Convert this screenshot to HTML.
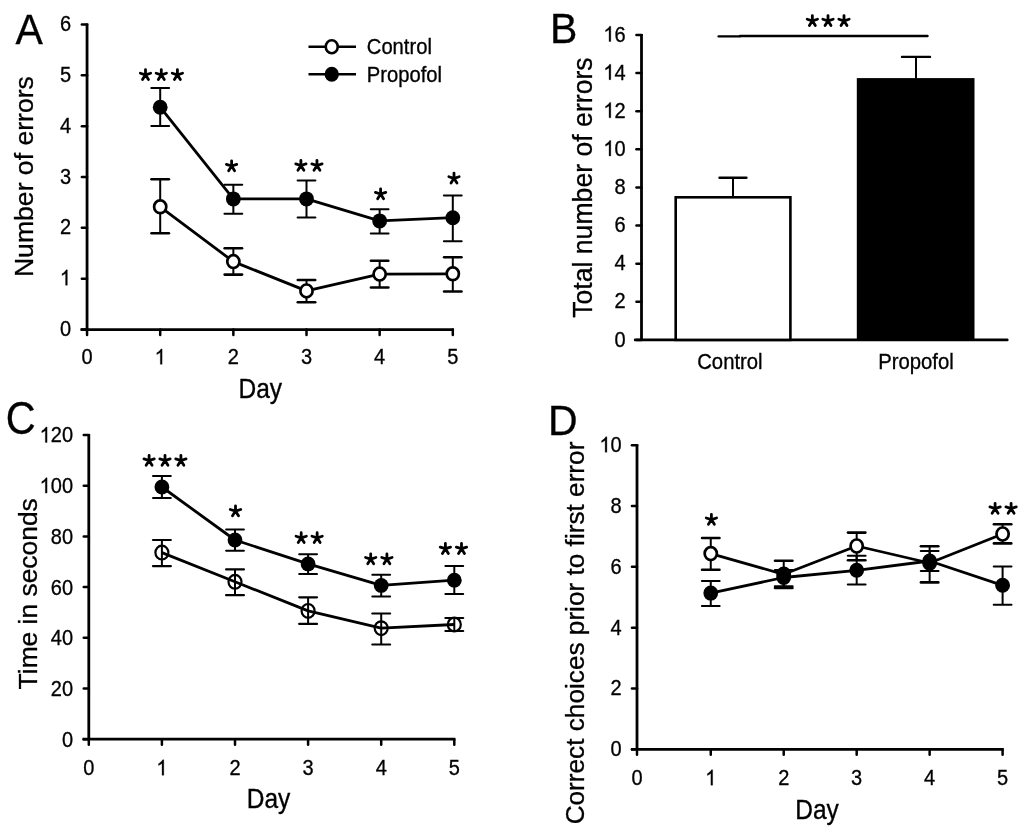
<!DOCTYPE html>
<html><head><meta charset="utf-8"><style>
html,body{margin:0;padding:0;background:#fff;width:1024px;height:832px;overflow:hidden}
svg{display:block}
#w{filter:grayscale(1)}
text{font-family:"Liberation Sans", sans-serif;fill:#000;stroke:#000;stroke-width:0.3px}
</style></head><body>
<div id="w"><svg width="1024" height="832" viewBox="0 0 1024 832">
<rect width="1024" height="832" fill="#fff"/>
<line x1="87.05" y1="23.50" x2="87.05" y2="329.55" stroke="#000" stroke-width="2.8" stroke-linecap="butt"/>
<line x1="81.85" y1="329.55" x2="87.05" y2="329.55" stroke="#000" stroke-width="2.5" stroke-linecap="round"/>
<text x="0" y="0" font-size="20" transform="translate(59.88 336.05) scale(1 1.07)">0</text>
<line x1="81.85" y1="278.71" x2="87.05" y2="278.71" stroke="#000" stroke-width="2.5" stroke-linecap="round"/>
<path d="M763 0H583V1147Q518 1085 412.5 1023T223 930V1104Q373 1175 485.5 1276T645 1472H763V0Z" transform="translate(59.88 285.21) scale(0.00977 -0.01045)" fill="#000" stroke="#000" stroke-width="30.7"/>
<line x1="81.85" y1="227.87" x2="87.05" y2="227.87" stroke="#000" stroke-width="2.5" stroke-linecap="round"/>
<text x="0" y="0" font-size="20" transform="translate(59.88 234.37) scale(1 1.07)">2</text>
<line x1="81.85" y1="177.03" x2="87.05" y2="177.03" stroke="#000" stroke-width="2.5" stroke-linecap="round"/>
<text x="0" y="0" font-size="20" transform="translate(59.88 183.53) scale(1 1.07)">3</text>
<line x1="81.85" y1="126.19" x2="87.05" y2="126.19" stroke="#000" stroke-width="2.5" stroke-linecap="round"/>
<text x="0" y="0" font-size="20" transform="translate(59.88 132.69) scale(1 1.07)">4</text>
<line x1="81.85" y1="75.35" x2="87.05" y2="75.35" stroke="#000" stroke-width="2.5" stroke-linecap="round"/>
<text x="0" y="0" font-size="20" transform="translate(59.88 81.85) scale(1 1.07)">5</text>
<line x1="81.85" y1="24.51" x2="87.05" y2="24.51" stroke="#000" stroke-width="2.5" stroke-linecap="round"/>
<text x="0" y="0" font-size="20" transform="translate(59.88 31.01) scale(1 1.07)">6</text>
<line x1="80.55" y1="329.55" x2="453.80" y2="329.55" stroke="#000" stroke-width="2.8" stroke-linecap="butt"/>
<line x1="87.05" y1="329.55" x2="87.05" y2="335.00" stroke="#000" stroke-width="2.5" stroke-linecap="round"/>
<text x="0" y="0" font-size="20" transform="translate(81.49 364.30) scale(1 1.07)">0</text>
<line x1="160.20" y1="329.55" x2="160.20" y2="335.00" stroke="#000" stroke-width="2.5" stroke-linecap="round"/>
<path d="M763 0H583V1147Q518 1085 412.5 1023T223 930V1104Q373 1175 485.5 1276T645 1472H763V0Z" transform="translate(154.64 364.30) scale(0.00977 -0.01045)" fill="#000" stroke="#000" stroke-width="30.7"/>
<line x1="233.35" y1="329.55" x2="233.35" y2="335.00" stroke="#000" stroke-width="2.5" stroke-linecap="round"/>
<text x="0" y="0" font-size="20" transform="translate(227.79 364.30) scale(1 1.07)">2</text>
<line x1="306.50" y1="329.55" x2="306.50" y2="335.00" stroke="#000" stroke-width="2.5" stroke-linecap="round"/>
<text x="0" y="0" font-size="20" transform="translate(300.94 364.30) scale(1 1.07)">3</text>
<line x1="379.65" y1="329.55" x2="379.65" y2="335.00" stroke="#000" stroke-width="2.5" stroke-linecap="round"/>
<text x="0" y="0" font-size="20" transform="translate(374.09 364.30) scale(1 1.07)">4</text>
<line x1="452.80" y1="329.55" x2="452.80" y2="335.00" stroke="#000" stroke-width="2.5" stroke-linecap="round"/>
<text x="0" y="0" font-size="20" transform="translate(447.24 364.30) scale(1 1.07)">5</text>
<text x="0" y="0" font-size="24.5" text-anchor="middle" transform="translate(260.30 398.40) scale(1 1.13)">Day</text>
<text x="0" y="0" font-size="26.6" text-anchor="middle" transform="translate(33.00 176.60) rotate(-90)">Number of errors</text>
<text x="0" y="0" font-size="41" text-anchor="start" transform="translate(15.60 44.00) scale(1 1.05)">A</text>
<line x1="308.50" y1="46.75" x2="356.00" y2="46.75" stroke="#000" stroke-width="2.6" stroke-linecap="butt"/>
<ellipse cx="331.75" cy="46.75" rx="6.0" ry="6.5" fill="#fff" stroke="#000" stroke-width="2.6"/>
<line x1="308.50" y1="74.25" x2="356.00" y2="74.25" stroke="#000" stroke-width="2.6" stroke-linecap="butt"/>
<ellipse cx="331.75" cy="74.25" rx="7.2" ry="7.5" fill="#000" stroke="#000" stroke-width="0"/>
<text x="0" y="0" font-size="20.2" text-anchor="start" transform="translate(366.80 54.30) scale(1 1.07)">Control</text>
<text x="0" y="0" font-size="20.2" text-anchor="start" transform="translate(366.80 81.80) scale(1 1.07)">Propofol</text>
<line x1="160.20" y1="179.30" x2="160.20" y2="233.20" stroke="#000" stroke-width="2.0" stroke-linecap="butt"/>
<line x1="151.50" y1="179.30" x2="168.90" y2="179.30" stroke="#000" stroke-width="2.6" stroke-linecap="round"/>
<line x1="151.50" y1="233.20" x2="168.90" y2="233.20" stroke="#000" stroke-width="2.6" stroke-linecap="round"/>
<line x1="233.35" y1="248.20" x2="233.35" y2="274.60" stroke="#000" stroke-width="2.0" stroke-linecap="butt"/>
<line x1="224.65" y1="248.20" x2="242.05" y2="248.20" stroke="#000" stroke-width="2.6" stroke-linecap="round"/>
<line x1="224.65" y1="274.60" x2="242.05" y2="274.60" stroke="#000" stroke-width="2.6" stroke-linecap="round"/>
<line x1="306.50" y1="280.00" x2="306.50" y2="302.30" stroke="#000" stroke-width="2.0" stroke-linecap="butt"/>
<line x1="297.80" y1="280.00" x2="315.20" y2="280.00" stroke="#000" stroke-width="2.6" stroke-linecap="round"/>
<line x1="297.80" y1="302.30" x2="315.20" y2="302.30" stroke="#000" stroke-width="2.6" stroke-linecap="round"/>
<line x1="379.65" y1="260.70" x2="379.65" y2="287.50" stroke="#000" stroke-width="2.0" stroke-linecap="butt"/>
<line x1="370.95" y1="260.70" x2="388.35" y2="260.70" stroke="#000" stroke-width="2.6" stroke-linecap="round"/>
<line x1="370.95" y1="287.50" x2="388.35" y2="287.50" stroke="#000" stroke-width="2.6" stroke-linecap="round"/>
<line x1="452.80" y1="257.30" x2="452.80" y2="291.50" stroke="#000" stroke-width="2.0" stroke-linecap="butt"/>
<line x1="444.10" y1="257.30" x2="461.50" y2="257.30" stroke="#000" stroke-width="2.6" stroke-linecap="round"/>
<line x1="444.10" y1="291.50" x2="461.50" y2="291.50" stroke="#000" stroke-width="2.6" stroke-linecap="round"/>
<line x1="160.20" y1="88.10" x2="160.20" y2="126.00" stroke="#000" stroke-width="2.0" stroke-linecap="butt"/>
<line x1="151.30" y1="88.10" x2="169.10" y2="88.10" stroke="#000" stroke-width="2.0" stroke-linecap="round"/>
<line x1="151.30" y1="126.00" x2="169.10" y2="126.00" stroke="#000" stroke-width="2.0" stroke-linecap="round"/>
<line x1="233.35" y1="184.80" x2="233.35" y2="213.80" stroke="#000" stroke-width="2.0" stroke-linecap="butt"/>
<line x1="224.45" y1="184.80" x2="242.25" y2="184.80" stroke="#000" stroke-width="2.0" stroke-linecap="round"/>
<line x1="224.45" y1="213.80" x2="242.25" y2="213.80" stroke="#000" stroke-width="2.0" stroke-linecap="round"/>
<line x1="306.50" y1="180.50" x2="306.50" y2="217.50" stroke="#000" stroke-width="2.0" stroke-linecap="butt"/>
<line x1="297.60" y1="180.50" x2="315.40" y2="180.50" stroke="#000" stroke-width="2.0" stroke-linecap="round"/>
<line x1="297.60" y1="217.50" x2="315.40" y2="217.50" stroke="#000" stroke-width="2.0" stroke-linecap="round"/>
<line x1="379.65" y1="209.30" x2="379.65" y2="233.50" stroke="#000" stroke-width="2.0" stroke-linecap="butt"/>
<line x1="370.75" y1="209.30" x2="388.55" y2="209.30" stroke="#000" stroke-width="2.0" stroke-linecap="round"/>
<line x1="370.75" y1="233.50" x2="388.55" y2="233.50" stroke="#000" stroke-width="2.0" stroke-linecap="round"/>
<line x1="452.80" y1="195.40" x2="452.80" y2="241.20" stroke="#000" stroke-width="2.0" stroke-linecap="butt"/>
<line x1="443.90" y1="195.40" x2="461.70" y2="195.40" stroke="#000" stroke-width="2.0" stroke-linecap="round"/>
<line x1="443.90" y1="241.20" x2="461.70" y2="241.20" stroke="#000" stroke-width="2.0" stroke-linecap="round"/>
<polyline points="160.20,206.80 233.35,261.60 306.50,290.90 379.65,274.10 452.80,273.80" fill="none" stroke="#000" stroke-width="2.8" stroke-linejoin="round"/>
<polyline points="160.20,107.20 233.35,198.90 306.50,198.90 379.65,220.90 452.80,217.70" fill="none" stroke="#000" stroke-width="2.8" stroke-linejoin="round"/>
<ellipse cx="160.20" cy="206.80" rx="6.1" ry="6.4" fill="#fff" stroke="#000" stroke-width="2.7"/>
<ellipse cx="233.35" cy="261.60" rx="6.1" ry="6.4" fill="#fff" stroke="#000" stroke-width="2.7"/>
<ellipse cx="306.50" cy="290.90" rx="6.1" ry="6.4" fill="#fff" stroke="#000" stroke-width="2.7"/>
<ellipse cx="379.65" cy="274.10" rx="6.1" ry="6.4" fill="#fff" stroke="#000" stroke-width="2.7"/>
<ellipse cx="452.80" cy="273.80" rx="6.1" ry="6.4" fill="#fff" stroke="#000" stroke-width="2.7"/>
<ellipse cx="160.20" cy="107.20" rx="7.4" ry="7.5" fill="#000" stroke="#000" stroke-width="0"/>
<ellipse cx="233.35" cy="198.90" rx="7.4" ry="7.5" fill="#000" stroke="#000" stroke-width="0"/>
<ellipse cx="306.50" cy="198.90" rx="7.4" ry="7.5" fill="#000" stroke="#000" stroke-width="0"/>
<ellipse cx="379.65" cy="220.90" rx="7.4" ry="7.5" fill="#000" stroke="#000" stroke-width="0"/>
<ellipse cx="452.80" cy="217.70" rx="7.4" ry="7.5" fill="#000" stroke="#000" stroke-width="0"/>
<path d="M145.50,74.80L145.50,69.60M145.50,74.80L150.66,73.22M145.50,74.80L148.47,79.55M145.50,74.80L142.53,79.55M145.50,74.80L140.34,73.22" stroke="#000" stroke-width="2.8" stroke-linecap="round" fill="none"/>
<path d="M161.30,74.80L161.30,69.60M161.30,74.80L166.46,73.22M161.30,74.80L164.27,79.55M161.30,74.80L158.33,79.55M161.30,74.80L156.14,73.22" stroke="#000" stroke-width="2.8" stroke-linecap="round" fill="none"/>
<path d="M177.40,74.80L177.40,69.60M177.40,74.80L182.56,73.22M177.40,74.80L180.37,79.55M177.40,74.80L174.43,79.55M177.40,74.80L172.24,73.22" stroke="#000" stroke-width="2.8" stroke-linecap="round" fill="none"/>
<path d="M231.60,166.00L231.60,160.80M231.60,166.00L236.76,164.42M231.60,166.00L234.57,170.75M231.60,166.00L228.63,170.75M231.60,166.00L226.44,164.42" stroke="#000" stroke-width="2.8" stroke-linecap="round" fill="none"/>
<path d="M300.90,165.50L300.90,160.30M300.90,165.50L306.06,163.92M300.90,165.50L303.87,170.25M300.90,165.50L297.93,170.25M300.90,165.50L295.74,163.92" stroke="#000" stroke-width="2.8" stroke-linecap="round" fill="none"/>
<path d="M316.95,165.50L316.95,160.30M316.95,165.50L322.11,163.92M316.95,165.50L319.92,170.25M316.95,165.50L313.98,170.25M316.95,165.50L311.79,163.92" stroke="#000" stroke-width="2.8" stroke-linecap="round" fill="none"/>
<path d="M380.60,194.00L380.60,188.80M380.60,194.00L385.76,192.42M380.60,194.00L383.57,198.75M380.60,194.00L377.63,198.75M380.60,194.00L375.44,192.42" stroke="#000" stroke-width="2.8" stroke-linecap="round" fill="none"/>
<path d="M454.00,178.30L454.00,173.10M454.00,178.30L459.16,176.72M454.00,178.30L456.97,183.05M454.00,178.30L451.03,183.05M454.00,178.30L448.84,176.72" stroke="#000" stroke-width="2.8" stroke-linecap="round" fill="none"/>
<line x1="641.50" y1="34.00" x2="641.50" y2="339.90" stroke="#000" stroke-width="2.8" stroke-linecap="butt"/>
<line x1="636.45" y1="339.90" x2="641.50" y2="339.90" stroke="#000" stroke-width="2.5" stroke-linecap="round"/>
<text x="0" y="0" font-size="20" transform="translate(614.48 346.50) scale(1 1.07)">0</text>
<line x1="636.45" y1="301.78" x2="641.50" y2="301.78" stroke="#000" stroke-width="2.5" stroke-linecap="round"/>
<text x="0" y="0" font-size="20" transform="translate(614.48 308.38) scale(1 1.07)">2</text>
<line x1="636.45" y1="263.66" x2="641.50" y2="263.66" stroke="#000" stroke-width="2.5" stroke-linecap="round"/>
<text x="0" y="0" font-size="20" transform="translate(614.48 270.26) scale(1 1.07)">4</text>
<line x1="636.45" y1="225.54" x2="641.50" y2="225.54" stroke="#000" stroke-width="2.5" stroke-linecap="round"/>
<text x="0" y="0" font-size="20" transform="translate(614.48 232.14) scale(1 1.07)">6</text>
<line x1="636.45" y1="187.42" x2="641.50" y2="187.42" stroke="#000" stroke-width="2.5" stroke-linecap="round"/>
<text x="0" y="0" font-size="20" transform="translate(614.48 194.02) scale(1 1.07)">8</text>
<line x1="636.45" y1="149.30" x2="641.50" y2="149.30" stroke="#000" stroke-width="2.5" stroke-linecap="round"/>
<path d="M763 0H583V1147Q518 1085 412.5 1023T223 930V1104Q373 1175 485.5 1276T645 1472H763V0Z" transform="translate(603.35 155.90) scale(0.00977 -0.01045)" fill="#000" stroke="#000" stroke-width="30.7"/>
<text x="0" y="0" font-size="20" transform="translate(614.48 155.90) scale(1 1.07)">0</text>
<line x1="636.45" y1="111.18" x2="641.50" y2="111.18" stroke="#000" stroke-width="2.5" stroke-linecap="round"/>
<path d="M763 0H583V1147Q518 1085 412.5 1023T223 930V1104Q373 1175 485.5 1276T645 1472H763V0Z" transform="translate(603.35 117.78) scale(0.00977 -0.01045)" fill="#000" stroke="#000" stroke-width="30.7"/>
<text x="0" y="0" font-size="20" transform="translate(614.48 117.78) scale(1 1.07)">2</text>
<line x1="636.45" y1="73.06" x2="641.50" y2="73.06" stroke="#000" stroke-width="2.5" stroke-linecap="round"/>
<path d="M763 0H583V1147Q518 1085 412.5 1023T223 930V1104Q373 1175 485.5 1276T645 1472H763V0Z" transform="translate(603.35 79.66) scale(0.00977 -0.01045)" fill="#000" stroke="#000" stroke-width="30.7"/>
<text x="0" y="0" font-size="20" transform="translate(614.48 79.66) scale(1 1.07)">4</text>
<line x1="636.45" y1="34.94" x2="641.50" y2="34.94" stroke="#000" stroke-width="2.5" stroke-linecap="round"/>
<path d="M763 0H583V1147Q518 1085 412.5 1023T223 930V1104Q373 1175 485.5 1276T645 1472H763V0Z" transform="translate(603.35 41.54) scale(0.00977 -0.01045)" fill="#000" stroke="#000" stroke-width="30.7"/>
<text x="0" y="0" font-size="20" transform="translate(614.48 41.54) scale(1 1.07)">6</text>
<line x1="635.20" y1="339.90" x2="1007.20" y2="339.90" stroke="#000" stroke-width="2.8" stroke-linecap="round"/>
<rect x="675.7" y="197.3" width="114.70" height="142.60" fill="#fff" stroke="#000" stroke-width="2.6"/>
<rect x="856.8" y="78.1" width="117.70" height="261.80" fill="#000"/>
<line x1="733.00" y1="177.70" x2="733.00" y2="197.30" stroke="#000" stroke-width="2.0" stroke-linecap="butt"/>
<line x1="719.50" y1="177.70" x2="746.40" y2="177.70" stroke="#000" stroke-width="2.4" stroke-linecap="round"/>
<line x1="916.00" y1="56.90" x2="916.00" y2="78.50" stroke="#000" stroke-width="2.0" stroke-linecap="butt"/>
<line x1="902.00" y1="56.90" x2="930.00" y2="56.90" stroke="#000" stroke-width="2.4" stroke-linecap="round"/>
<line x1="718.50" y1="36.40" x2="740.00" y2="36.40" stroke="#000" stroke-width="2.3" stroke-linecap="round"/>
<line x1="740.00" y1="36.00" x2="927.60" y2="36.00" stroke="#000" stroke-width="2.3" stroke-linecap="round"/>
<path d="M812.35,20.80L812.35,15.60M812.35,20.80L817.51,19.22M812.35,20.80L815.32,25.55M812.35,20.80L809.38,25.55M812.35,20.80L807.19,19.22" stroke="#000" stroke-width="2.8" stroke-linecap="round" fill="none"/>
<path d="M828.00,20.80L828.00,15.60M828.00,20.80L833.16,19.22M828.00,20.80L830.97,25.55M828.00,20.80L825.03,25.55M828.00,20.80L822.84,19.22" stroke="#000" stroke-width="2.8" stroke-linecap="round" fill="none"/>
<path d="M844.00,20.80L844.00,15.60M844.00,20.80L849.16,19.22M844.00,20.80L846.97,25.55M844.00,20.80L841.03,25.55M844.00,20.80L838.84,19.22" stroke="#000" stroke-width="2.8" stroke-linecap="round" fill="none"/>
<text x="0" y="0" font-size="20.3" text-anchor="middle" transform="translate(729.90 369.00) scale(1 1.08)">Control</text>
<text x="0" y="0" font-size="20.3" text-anchor="middle" transform="translate(916.00 369.30) scale(1 1.08)">Propofol</text>
<text x="0" y="0" font-size="27" text-anchor="middle" transform="translate(592.30 187.60) rotate(-90)" textLength="260.5" lengthAdjust="spacingAndGlyphs">Total number of errors</text>
<text x="0" y="0" font-size="41" text-anchor="start" transform="translate(550.00 42.50) scale(1 1.02)">B</text>
<line x1="88.80" y1="434.00" x2="88.80" y2="739.20" stroke="#000" stroke-width="2.8" stroke-linecap="butt"/>
<line x1="83.75" y1="739.20" x2="88.80" y2="739.20" stroke="#000" stroke-width="2.5" stroke-linecap="round"/>
<text x="0" y="0" font-size="20" transform="translate(61.88 746.60) scale(1 1.07)">0</text>
<line x1="83.75" y1="688.50" x2="88.80" y2="688.50" stroke="#000" stroke-width="2.5" stroke-linecap="round"/>
<text x="0" y="0" font-size="20" transform="translate(50.75 695.90) scale(1 1.07)">2</text>
<text x="0" y="0" font-size="20" transform="translate(61.88 695.90) scale(1 1.07)">0</text>
<line x1="83.75" y1="637.80" x2="88.80" y2="637.80" stroke="#000" stroke-width="2.5" stroke-linecap="round"/>
<text x="0" y="0" font-size="20" transform="translate(50.75 645.20) scale(1 1.07)">4</text>
<text x="0" y="0" font-size="20" transform="translate(61.88 645.20) scale(1 1.07)">0</text>
<line x1="83.75" y1="587.10" x2="88.80" y2="587.10" stroke="#000" stroke-width="2.5" stroke-linecap="round"/>
<text x="0" y="0" font-size="20" transform="translate(50.75 594.50) scale(1 1.07)">6</text>
<text x="0" y="0" font-size="20" transform="translate(61.88 594.50) scale(1 1.07)">0</text>
<line x1="83.75" y1="536.40" x2="88.80" y2="536.40" stroke="#000" stroke-width="2.5" stroke-linecap="round"/>
<text x="0" y="0" font-size="20" transform="translate(50.75 543.80) scale(1 1.07)">8</text>
<text x="0" y="0" font-size="20" transform="translate(61.88 543.80) scale(1 1.07)">0</text>
<line x1="83.75" y1="485.70" x2="88.80" y2="485.70" stroke="#000" stroke-width="2.5" stroke-linecap="round"/>
<path d="M763 0H583V1147Q518 1085 412.5 1023T223 930V1104Q373 1175 485.5 1276T645 1472H763V0Z" transform="translate(39.63 493.10) scale(0.00977 -0.01045)" fill="#000" stroke="#000" stroke-width="30.7"/>
<text x="0" y="0" font-size="20" transform="translate(50.75 493.10) scale(1 1.07)">0</text>
<text x="0" y="0" font-size="20" transform="translate(61.88 493.10) scale(1 1.07)">0</text>
<line x1="83.75" y1="435.00" x2="88.80" y2="435.00" stroke="#000" stroke-width="2.5" stroke-linecap="round"/>
<path d="M763 0H583V1147Q518 1085 412.5 1023T223 930V1104Q373 1175 485.5 1276T645 1472H763V0Z" transform="translate(39.63 442.40) scale(0.00977 -0.01045)" fill="#000" stroke="#000" stroke-width="30.7"/>
<text x="0" y="0" font-size="20" transform="translate(50.75 442.40) scale(1 1.07)">2</text>
<text x="0" y="0" font-size="20" transform="translate(61.88 442.40) scale(1 1.07)">0</text>
<line x1="82.50" y1="739.20" x2="455.30" y2="739.20" stroke="#000" stroke-width="2.8" stroke-linecap="butt"/>
<line x1="88.80" y1="739.20" x2="88.80" y2="744.65" stroke="#000" stroke-width="2.5" stroke-linecap="round"/>
<text x="0" y="0" font-size="20" transform="translate(83.24 775.20) scale(1 1.07)">0</text>
<line x1="161.90" y1="739.20" x2="161.90" y2="744.65" stroke="#000" stroke-width="2.5" stroke-linecap="round"/>
<path d="M763 0H583V1147Q518 1085 412.5 1023T223 930V1104Q373 1175 485.5 1276T645 1472H763V0Z" transform="translate(156.34 775.20) scale(0.00977 -0.01045)" fill="#000" stroke="#000" stroke-width="30.7"/>
<line x1="235.00" y1="739.20" x2="235.00" y2="744.65" stroke="#000" stroke-width="2.5" stroke-linecap="round"/>
<text x="0" y="0" font-size="20" transform="translate(229.44 775.20) scale(1 1.07)">2</text>
<line x1="308.10" y1="739.20" x2="308.10" y2="744.65" stroke="#000" stroke-width="2.5" stroke-linecap="round"/>
<text x="0" y="0" font-size="20" transform="translate(302.54 775.20) scale(1 1.07)">3</text>
<line x1="381.20" y1="739.20" x2="381.20" y2="744.65" stroke="#000" stroke-width="2.5" stroke-linecap="round"/>
<text x="0" y="0" font-size="20" transform="translate(375.64 775.20) scale(1 1.07)">4</text>
<line x1="454.30" y1="739.20" x2="454.30" y2="744.65" stroke="#000" stroke-width="2.5" stroke-linecap="round"/>
<text x="0" y="0" font-size="20" transform="translate(448.74 775.20) scale(1 1.07)">5</text>
<text x="0" y="0" font-size="24.5" text-anchor="middle" transform="translate(268.50 807.80) scale(1 1.13)">Day</text>
<text x="0" y="0" font-size="26.4" text-anchor="middle" transform="translate(37.30 593.80) rotate(-90)">Time in seconds</text>
<text x="0" y="0" font-size="41.5" text-anchor="start" transform="translate(5.80 433.90) scale(1 1.1)">C</text>
<line x1="161.90" y1="540.00" x2="161.90" y2="566.20" stroke="#000" stroke-width="2.0" stroke-linecap="butt"/>
<line x1="153.00" y1="540.00" x2="170.80" y2="540.00" stroke="#000" stroke-width="2.2" stroke-linecap="round"/>
<line x1="153.00" y1="566.20" x2="170.80" y2="566.20" stroke="#000" stroke-width="2.2" stroke-linecap="round"/>
<line x1="235.00" y1="569.40" x2="235.00" y2="595.20" stroke="#000" stroke-width="2.0" stroke-linecap="butt"/>
<line x1="226.10" y1="569.40" x2="243.90" y2="569.40" stroke="#000" stroke-width="2.2" stroke-linecap="round"/>
<line x1="226.10" y1="595.20" x2="243.90" y2="595.20" stroke="#000" stroke-width="2.2" stroke-linecap="round"/>
<line x1="308.10" y1="597.30" x2="308.10" y2="623.90" stroke="#000" stroke-width="2.0" stroke-linecap="butt"/>
<line x1="299.20" y1="597.30" x2="317.00" y2="597.30" stroke="#000" stroke-width="2.2" stroke-linecap="round"/>
<line x1="299.20" y1="623.90" x2="317.00" y2="623.90" stroke="#000" stroke-width="2.2" stroke-linecap="round"/>
<line x1="381.20" y1="613.50" x2="381.20" y2="644.50" stroke="#000" stroke-width="2.0" stroke-linecap="butt"/>
<line x1="372.30" y1="613.50" x2="390.10" y2="613.50" stroke="#000" stroke-width="2.2" stroke-linecap="round"/>
<line x1="372.30" y1="644.50" x2="390.10" y2="644.50" stroke="#000" stroke-width="2.2" stroke-linecap="round"/>
<line x1="454.30" y1="618.00" x2="454.30" y2="631.00" stroke="#000" stroke-width="2.0" stroke-linecap="butt"/>
<line x1="445.40" y1="618.00" x2="463.20" y2="618.00" stroke="#000" stroke-width="2.2" stroke-linecap="round"/>
<line x1="445.40" y1="631.00" x2="463.20" y2="631.00" stroke="#000" stroke-width="2.2" stroke-linecap="round"/>
<line x1="161.90" y1="476.10" x2="161.90" y2="498.00" stroke="#000" stroke-width="2.0" stroke-linecap="butt"/>
<line x1="153.00" y1="476.10" x2="170.80" y2="476.10" stroke="#000" stroke-width="2.0" stroke-linecap="round"/>
<line x1="153.00" y1="498.00" x2="170.80" y2="498.00" stroke="#000" stroke-width="2.0" stroke-linecap="round"/>
<line x1="235.00" y1="529.40" x2="235.00" y2="550.80" stroke="#000" stroke-width="2.0" stroke-linecap="butt"/>
<line x1="226.10" y1="529.40" x2="243.90" y2="529.40" stroke="#000" stroke-width="2.0" stroke-linecap="round"/>
<line x1="226.10" y1="550.80" x2="243.90" y2="550.80" stroke="#000" stroke-width="2.0" stroke-linecap="round"/>
<line x1="308.10" y1="554.20" x2="308.10" y2="574.10" stroke="#000" stroke-width="2.0" stroke-linecap="butt"/>
<line x1="299.20" y1="554.20" x2="317.00" y2="554.20" stroke="#000" stroke-width="2.0" stroke-linecap="round"/>
<line x1="299.20" y1="574.10" x2="317.00" y2="574.10" stroke="#000" stroke-width="2.0" stroke-linecap="round"/>
<line x1="381.20" y1="574.80" x2="381.20" y2="596.40" stroke="#000" stroke-width="2.0" stroke-linecap="butt"/>
<line x1="372.30" y1="574.80" x2="390.10" y2="574.80" stroke="#000" stroke-width="2.0" stroke-linecap="round"/>
<line x1="372.30" y1="596.40" x2="390.10" y2="596.40" stroke="#000" stroke-width="2.0" stroke-linecap="round"/>
<line x1="454.30" y1="566.10" x2="454.30" y2="594.00" stroke="#000" stroke-width="2.0" stroke-linecap="butt"/>
<line x1="445.40" y1="566.10" x2="463.20" y2="566.10" stroke="#000" stroke-width="2.0" stroke-linecap="round"/>
<line x1="445.40" y1="594.00" x2="463.20" y2="594.00" stroke="#000" stroke-width="2.0" stroke-linecap="round"/>
<polyline points="161.90,552.60 235.00,581.80 308.10,610.90 381.20,628.20 454.30,624.50" fill="none" stroke="#000" stroke-width="2.8" stroke-linejoin="round"/>
<polyline points="161.90,487.00 235.00,540.00 308.10,563.90 381.20,585.40 454.30,580.20" fill="none" stroke="#000" stroke-width="2.8" stroke-linejoin="round"/>
<ellipse cx="161.90" cy="552.60" rx="6.5" ry="6.9" fill="none" stroke="#000" stroke-width="2.2"/>
<ellipse cx="235.00" cy="581.80" rx="6.5" ry="6.9" fill="none" stroke="#000" stroke-width="2.2"/>
<ellipse cx="308.10" cy="610.90" rx="6.5" ry="6.9" fill="none" stroke="#000" stroke-width="2.2"/>
<ellipse cx="381.20" cy="628.20" rx="6.5" ry="6.9" fill="none" stroke="#000" stroke-width="2.2"/>
<ellipse cx="454.30" cy="624.50" rx="6.5" ry="6.9" fill="none" stroke="#000" stroke-width="2.2"/>
<ellipse cx="161.90" cy="487.00" rx="7.4" ry="7.4" fill="#000" stroke="#000" stroke-width="0"/>
<ellipse cx="235.00" cy="540.00" rx="7.4" ry="7.4" fill="#000" stroke="#000" stroke-width="0"/>
<ellipse cx="308.10" cy="563.90" rx="7.4" ry="7.4" fill="#000" stroke="#000" stroke-width="0"/>
<ellipse cx="381.20" cy="585.40" rx="7.4" ry="7.4" fill="#000" stroke="#000" stroke-width="0"/>
<ellipse cx="454.30" cy="580.20" rx="7.4" ry="7.4" fill="#000" stroke="#000" stroke-width="0"/>
<path d="M149.10,460.50L149.10,455.30M149.10,460.50L154.26,458.92M149.10,460.50L152.07,465.25M149.10,460.50L146.13,465.25M149.10,460.50L143.94,458.92" stroke="#000" stroke-width="2.8" stroke-linecap="round" fill="none"/>
<path d="M165.00,460.50L165.00,455.30M165.00,460.50L170.16,458.92M165.00,460.50L167.97,465.25M165.00,460.50L162.03,465.25M165.00,460.50L159.84,458.92" stroke="#000" stroke-width="2.8" stroke-linecap="round" fill="none"/>
<path d="M180.90,460.50L180.90,455.30M180.90,460.50L186.06,458.92M180.90,460.50L183.87,465.25M180.90,460.50L177.93,465.25M180.90,460.50L175.74,458.92" stroke="#000" stroke-width="2.8" stroke-linecap="round" fill="none"/>
<path d="M235.50,511.10L235.50,505.90M235.50,511.10L240.66,509.52M235.50,511.10L238.47,515.85M235.50,511.10L232.53,515.85M235.50,511.10L230.34,509.52" stroke="#000" stroke-width="2.8" stroke-linecap="round" fill="none"/>
<path d="M301.20,537.85L301.20,532.65M301.20,537.85L306.36,536.27M301.20,537.85L304.17,542.60M301.20,537.85L298.23,542.60M301.20,537.85L296.04,536.27" stroke="#000" stroke-width="2.8" stroke-linecap="round" fill="none"/>
<path d="M317.15,537.85L317.15,532.65M317.15,537.85L322.31,536.27M317.15,537.85L320.12,542.60M317.15,537.85L314.18,542.60M317.15,537.85L311.99,536.27" stroke="#000" stroke-width="2.8" stroke-linecap="round" fill="none"/>
<path d="M370.70,559.10L370.70,553.90M370.70,559.10L375.86,557.52M370.70,559.10L373.67,563.85M370.70,559.10L367.73,563.85M370.70,559.10L365.54,557.52" stroke="#000" stroke-width="2.8" stroke-linecap="round" fill="none"/>
<path d="M386.90,559.10L386.90,553.90M386.90,559.10L392.06,557.52M386.90,559.10L389.87,563.85M386.90,559.10L383.93,563.85M386.90,559.10L381.74,557.52" stroke="#000" stroke-width="2.8" stroke-linecap="round" fill="none"/>
<path d="M445.40,548.70L445.40,543.50M445.40,548.70L450.56,547.12M445.40,548.70L448.37,553.45M445.40,548.70L442.43,553.45M445.40,548.70L440.24,547.12" stroke="#000" stroke-width="2.8" stroke-linecap="round" fill="none"/>
<path d="M461.50,548.70L461.50,543.50M461.50,548.70L466.66,547.12M461.50,548.70L464.47,553.45M461.50,548.70L458.53,553.45M461.50,548.70L456.34,547.12" stroke="#000" stroke-width="2.8" stroke-linecap="round" fill="none"/>
<line x1="637.00" y1="444.20" x2="637.00" y2="749.30" stroke="#000" stroke-width="2.8" stroke-linecap="butt"/>
<line x1="631.95" y1="749.30" x2="637.00" y2="749.30" stroke="#000" stroke-width="2.5" stroke-linecap="round"/>
<text x="0" y="0" font-size="20" transform="translate(610.58 756.30) scale(1 1.07)">0</text>
<line x1="631.95" y1="688.48" x2="637.00" y2="688.48" stroke="#000" stroke-width="2.5" stroke-linecap="round"/>
<text x="0" y="0" font-size="20" transform="translate(610.58 695.48) scale(1 1.07)">2</text>
<line x1="631.95" y1="627.66" x2="637.00" y2="627.66" stroke="#000" stroke-width="2.5" stroke-linecap="round"/>
<text x="0" y="0" font-size="20" transform="translate(610.58 634.66) scale(1 1.07)">4</text>
<line x1="631.95" y1="566.84" x2="637.00" y2="566.84" stroke="#000" stroke-width="2.5" stroke-linecap="round"/>
<text x="0" y="0" font-size="20" transform="translate(610.58 573.84) scale(1 1.07)">6</text>
<line x1="631.95" y1="506.02" x2="637.00" y2="506.02" stroke="#000" stroke-width="2.5" stroke-linecap="round"/>
<text x="0" y="0" font-size="20" transform="translate(610.58 513.02) scale(1 1.07)">8</text>
<line x1="631.95" y1="445.20" x2="637.00" y2="445.20" stroke="#000" stroke-width="2.5" stroke-linecap="round"/>
<path d="M763 0H583V1147Q518 1085 412.5 1023T223 930V1104Q373 1175 485.5 1276T645 1472H763V0Z" transform="translate(599.45 452.20) scale(0.00977 -0.01045)" fill="#000" stroke="#000" stroke-width="30.7"/>
<text x="0" y="0" font-size="20" transform="translate(610.58 452.20) scale(1 1.07)">0</text>
<line x1="631.00" y1="749.30" x2="1003.60" y2="749.30" stroke="#000" stroke-width="2.8" stroke-linecap="butt"/>
<line x1="637.00" y1="749.30" x2="637.00" y2="754.75" stroke="#000" stroke-width="2.5" stroke-linecap="round"/>
<text x="0" y="0" font-size="20" transform="translate(631.44 785.20) scale(1 1.07)">0</text>
<line x1="710.76" y1="749.30" x2="710.76" y2="754.75" stroke="#000" stroke-width="2.5" stroke-linecap="round"/>
<path d="M763 0H583V1147Q518 1085 412.5 1023T223 930V1104Q373 1175 485.5 1276T645 1472H763V0Z" transform="translate(705.20 785.20) scale(0.00977 -0.01045)" fill="#000" stroke="#000" stroke-width="30.7"/>
<line x1="783.72" y1="749.30" x2="783.72" y2="754.75" stroke="#000" stroke-width="2.5" stroke-linecap="round"/>
<text x="0" y="0" font-size="20" transform="translate(778.16 785.20) scale(1 1.07)">2</text>
<line x1="856.68" y1="749.30" x2="856.68" y2="754.75" stroke="#000" stroke-width="2.5" stroke-linecap="round"/>
<text x="0" y="0" font-size="20" transform="translate(851.12 785.20) scale(1 1.07)">3</text>
<line x1="929.64" y1="749.30" x2="929.64" y2="754.75" stroke="#000" stroke-width="2.5" stroke-linecap="round"/>
<text x="0" y="0" font-size="20" transform="translate(924.08 785.20) scale(1 1.07)">4</text>
<line x1="1002.60" y1="749.30" x2="1002.60" y2="754.75" stroke="#000" stroke-width="2.5" stroke-linecap="round"/>
<text x="0" y="0" font-size="20" transform="translate(997.04 785.20) scale(1 1.07)">5</text>
<text x="0" y="0" font-size="24.5" text-anchor="middle" transform="translate(817.00 818.90) scale(1 1.13)">Day</text>
<text x="0" y="0" font-size="26.2" text-anchor="middle" transform="translate(583.60 633.00) rotate(-90)">Correct choices prior to first error</text>
<text x="0" y="0" font-size="41" text-anchor="start" transform="translate(548.00 435.20) scale(1 1.03)">D</text>
<line x1="710.76" y1="538.00" x2="710.76" y2="569.80" stroke="#000" stroke-width="2.0" stroke-linecap="butt"/>
<line x1="702.06" y1="538.00" x2="719.46" y2="538.00" stroke="#000" stroke-width="2.6" stroke-linecap="round"/>
<line x1="702.06" y1="569.80" x2="719.46" y2="569.80" stroke="#000" stroke-width="2.6" stroke-linecap="round"/>
<line x1="783.72" y1="560.80" x2="783.72" y2="588.00" stroke="#000" stroke-width="2.0" stroke-linecap="butt"/>
<line x1="775.02" y1="560.80" x2="792.42" y2="560.80" stroke="#000" stroke-width="2.6" stroke-linecap="round"/>
<line x1="775.02" y1="588.00" x2="792.42" y2="588.00" stroke="#000" stroke-width="2.6" stroke-linecap="round"/>
<line x1="856.68" y1="532.60" x2="856.68" y2="560.30" stroke="#000" stroke-width="2.0" stroke-linecap="butt"/>
<line x1="847.98" y1="532.60" x2="865.38" y2="532.60" stroke="#000" stroke-width="2.6" stroke-linecap="round"/>
<line x1="847.98" y1="560.30" x2="865.38" y2="560.30" stroke="#000" stroke-width="2.6" stroke-linecap="round"/>
<line x1="929.64" y1="546.20" x2="929.64" y2="582.40" stroke="#000" stroke-width="2.0" stroke-linecap="butt"/>
<line x1="920.94" y1="546.20" x2="938.34" y2="546.20" stroke="#000" stroke-width="2.6" stroke-linecap="round"/>
<line x1="920.94" y1="582.40" x2="938.34" y2="582.40" stroke="#000" stroke-width="2.6" stroke-linecap="round"/>
<line x1="1002.60" y1="524.30" x2="1002.60" y2="543.40" stroke="#000" stroke-width="2.0" stroke-linecap="butt"/>
<line x1="993.90" y1="524.30" x2="1011.30" y2="524.30" stroke="#000" stroke-width="2.6" stroke-linecap="round"/>
<line x1="993.90" y1="543.40" x2="1011.30" y2="543.40" stroke="#000" stroke-width="2.6" stroke-linecap="round"/>
<polyline points="710.76,553.60 783.72,574.30 856.68,546.00 929.64,563.00 1002.60,534.00" fill="none" stroke="#000" stroke-width="2.8" stroke-linejoin="round"/>
<polyline points="710.76,593.10 783.72,577.50 856.68,570.30 929.64,561.00 1002.60,585.30" fill="none" stroke="#000" stroke-width="2.8" stroke-linejoin="round"/>
<ellipse cx="710.76" cy="553.60" rx="6.1" ry="6.5" fill="#fff" stroke="#000" stroke-width="2.7"/>
<ellipse cx="783.72" cy="574.30" rx="6.1" ry="6.5" fill="#fff" stroke="#000" stroke-width="2.7"/>
<ellipse cx="856.68" cy="546.00" rx="6.1" ry="6.5" fill="#fff" stroke="#000" stroke-width="2.7"/>
<ellipse cx="929.64" cy="563.00" rx="6.1" ry="6.5" fill="#fff" stroke="#000" stroke-width="2.7"/>
<ellipse cx="1002.60" cy="534.00" rx="6.1" ry="6.5" fill="#fff" stroke="#000" stroke-width="2.7"/>
<line x1="710.76" y1="580.90" x2="710.76" y2="605.90" stroke="#000" stroke-width="2.0" stroke-linecap="butt"/>
<line x1="701.86" y1="580.90" x2="719.66" y2="580.90" stroke="#000" stroke-width="2.0" stroke-linecap="round"/>
<line x1="701.86" y1="605.90" x2="719.66" y2="605.90" stroke="#000" stroke-width="2.0" stroke-linecap="round"/>
<line x1="783.72" y1="570.10" x2="783.72" y2="586.20" stroke="#000" stroke-width="2.0" stroke-linecap="butt"/>
<line x1="774.82" y1="570.10" x2="792.62" y2="570.10" stroke="#000" stroke-width="2.0" stroke-linecap="round"/>
<line x1="774.82" y1="586.20" x2="792.62" y2="586.20" stroke="#000" stroke-width="2.0" stroke-linecap="round"/>
<line x1="856.68" y1="555.80" x2="856.68" y2="584.50" stroke="#000" stroke-width="2.0" stroke-linecap="butt"/>
<line x1="847.78" y1="555.80" x2="865.58" y2="555.80" stroke="#000" stroke-width="2.0" stroke-linecap="round"/>
<line x1="847.78" y1="584.50" x2="865.58" y2="584.50" stroke="#000" stroke-width="2.0" stroke-linecap="round"/>
<line x1="929.64" y1="551.10" x2="929.64" y2="570.90" stroke="#000" stroke-width="2.0" stroke-linecap="butt"/>
<line x1="920.74" y1="551.10" x2="938.54" y2="551.10" stroke="#000" stroke-width="2.0" stroke-linecap="round"/>
<line x1="920.74" y1="570.90" x2="938.54" y2="570.90" stroke="#000" stroke-width="2.0" stroke-linecap="round"/>
<line x1="1002.60" y1="566.50" x2="1002.60" y2="604.80" stroke="#000" stroke-width="2.0" stroke-linecap="butt"/>
<line x1="993.70" y1="566.50" x2="1011.50" y2="566.50" stroke="#000" stroke-width="2.0" stroke-linecap="round"/>
<line x1="993.70" y1="604.80" x2="1011.50" y2="604.80" stroke="#000" stroke-width="2.0" stroke-linecap="round"/>
<ellipse cx="710.76" cy="593.10" rx="7.4" ry="7.5" fill="#000" stroke="#000" stroke-width="0"/>
<ellipse cx="783.72" cy="577.50" rx="7.4" ry="7.5" fill="#000" stroke="#000" stroke-width="0"/>
<ellipse cx="856.68" cy="570.30" rx="7.4" ry="7.5" fill="#000" stroke="#000" stroke-width="0"/>
<ellipse cx="929.64" cy="561.00" rx="7.4" ry="7.5" fill="#000" stroke="#000" stroke-width="0"/>
<ellipse cx="1002.60" cy="585.30" rx="7.4" ry="7.5" fill="#000" stroke="#000" stroke-width="0"/>
<path d="M711.40,519.60L711.40,514.40M711.40,519.60L716.56,518.02M711.40,519.60L714.37,524.35M711.40,519.60L708.43,524.35M711.40,519.60L706.24,518.02" stroke="#000" stroke-width="2.8" stroke-linecap="round" fill="none"/>
<path d="M995.10,508.50L995.10,503.30M995.10,508.50L1000.26,506.92M995.10,508.50L998.07,513.25M995.10,508.50L992.13,513.25M995.10,508.50L989.94,506.92" stroke="#000" stroke-width="2.8" stroke-linecap="round" fill="none"/>
<path d="M1011.10,508.50L1011.10,503.30M1011.10,508.50L1016.26,506.92M1011.10,508.50L1014.07,513.25M1011.10,508.50L1008.13,513.25M1011.10,508.50L1005.94,506.92" stroke="#000" stroke-width="2.8" stroke-linecap="round" fill="none"/>
</svg></div>
</body></html>
